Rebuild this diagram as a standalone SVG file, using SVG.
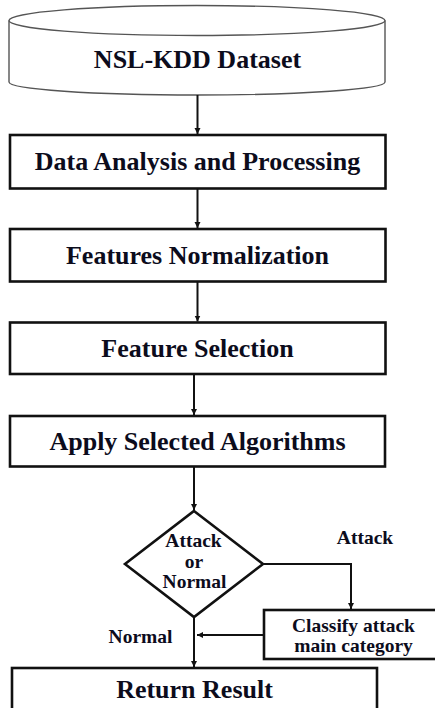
<svg xmlns="http://www.w3.org/2000/svg" width="435" height="708" viewBox="0 0 435 708">
  <defs>
    <marker id="arrow" markerUnits="userSpaceOnUse" markerWidth="8" markerHeight="8" refX="6" refY="3" orient="auto">
      <path d="M0,0 L6,3 L0,6 z" fill="#111"/>
    </marker>
    <style>
      .box { fill: #fff; stroke: #111; stroke-width: 2.6; }
      .db { fill: #fff; stroke: #555; stroke-width: 1.4; }
      .t { font-family: 'Liberation Serif', Tinos, 'Times New Roman', Times, 'Nimbus Roman', 'Noto Serif', 'DejaVu Serif', FreeSerif, serif; font-weight: 700; fill: #0c0c1c; text-anchor: middle; }
      .big { font-size: 26px; }
      .small { font-size: 19.5px; }
      .conn { fill: none; stroke: #111; stroke-width: 2; }
      .arr { marker-end: url(#arrow); }
    </style>
  </defs>
  <rect width="435" height="708" fill="#fff"/>

  <g id="dataset">
    <path class="db" d="M9,20.5 V82 A188,13 0 0 0 385,82 V20.5"/>
    <ellipse class="db" cx="197" cy="20.5" rx="188" ry="15"/>
    <text class="t big" x="197.5" y="68">NSL-KDD Dataset</text>
  </g>

  <g id="analysis">
    <rect class="box" x="10" y="135" width="375.5" height="53.5"/>
    <text class="t big" x="197.5" y="170">Data Analysis and Processing</text>
  </g>

  <g id="normalization">
    <rect class="box" x="10" y="229" width="375.5" height="52.5"/>
    <text class="t big" x="197.5" y="264">Features Normalization</text>
  </g>

  <g id="selection">
    <rect class="box" x="10" y="322.5" width="375.5" height="51.5"/>
    <text class="t big" x="197.5" y="357">Feature Selection</text>
  </g>

  <g id="algorithms">
    <rect class="box" x="10" y="416" width="375" height="50.5"/>
    <text class="t big" x="197.5" y="450">Apply Selected Algorithms</text>
  </g>

  <g id="decision">
    <polygon class="box" points="194,511 263,564 194,617 125,564"/>
    <text class="t small" x="193.5" y="547">Attack</text>
    <text class="t small" x="194" y="568">or</text>
    <text class="t small" x="194.5" y="588">Normal</text>
  </g>

  <g id="classify">
    <rect class="box" x="264" y="610" width="180" height="49"/>
    <text class="t small" x="353.5" y="632">Classify attack</text>
    <text class="t small" x="353.5" y="651.5">main category</text>
  </g>

  <g id="result">
    <rect class="box" x="12" y="668" width="365" height="60"/>
    <text class="t big" x="194.5" y="698">Return Result</text>
  </g>

  <g id="connectors">
    <path class="conn arr" d="M197.5,95 V134"/>
    <path class="conn arr" d="M197.5,189 V228"/>
    <path class="conn arr" d="M197.5,282 V321.5"/>
    <path class="conn arr" d="M194,374.5 V415"/>
    <path class="conn arr" d="M194,467 V510"/>
    <path class="conn arr" d="M263,564 H351 V609"/>
    <path class="conn arr" d="M263,635 H197"/>
    <path class="conn arr" d="M194,617 V667"/>
    <text class="t small" x="365" y="544">Attack</text>
    <text class="t small" x="140.5" y="643">Normal</text>
  </g>
</svg>
